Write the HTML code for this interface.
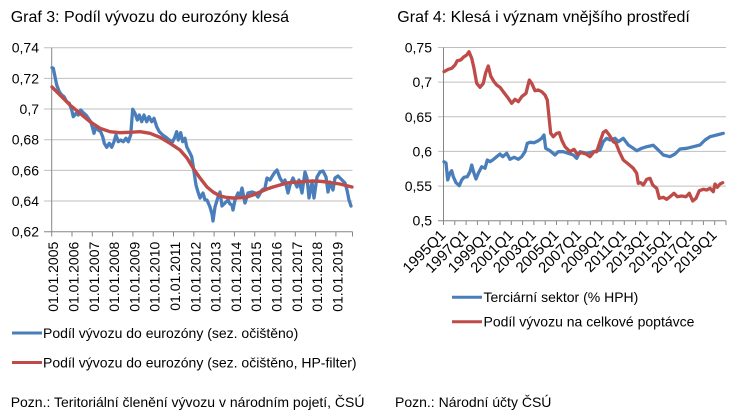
<!DOCTYPE html>
<html>
<head>
<meta charset="utf-8">
<style>
html,body{margin:0;padding:0;background:#fff;}
svg{display:block;}
text{font-family:"Liberation Sans",Arial,sans-serif;fill:#000;}
</style>
</head>
<body>
<svg width="740" height="420" viewBox="0 0 740 420" xmlns="http://www.w3.org/2000/svg">
<rect width="740" height="420" fill="#fff"/>

<!-- ===== LEFT CHART ===== -->
<text x="10.7" y="22" font-size="16">Graf 3: Podíl vývozu do eurozóny klesá</text>

<g stroke="#bfbfbf" stroke-width="1">
<line x1="44" y1="47.7" x2="352.5" y2="47.7"/>
<line x1="44" y1="78.4" x2="352.5" y2="78.4"/>
<line x1="44" y1="109.0" x2="352.5" y2="109.0"/>
<line x1="44" y1="139.7" x2="352.5" y2="139.7"/>
<line x1="44" y1="170.4" x2="352.5" y2="170.4"/>
<line x1="44" y1="201.0" x2="352.5" y2="201.0"/>
</g>
<g stroke="#868686" stroke-width="1">
<line x1="51.7" y1="47.7" x2="51.7" y2="231.7"/>
<line x1="44" y1="231.7" x2="352.5" y2="231.7"/>
<line x1="51.7" y1="231.7" x2="51.7" y2="236.5"/>
<line x1="72" y1="231.7" x2="72" y2="236.5"/>
<line x1="92.3" y1="231.7" x2="92.3" y2="236.5"/>
<line x1="112.6" y1="231.7" x2="112.6" y2="236.5"/>
<line x1="132.9" y1="231.7" x2="132.9" y2="236.5"/>
<line x1="153.2" y1="231.7" x2="153.2" y2="236.5"/>
<line x1="173.5" y1="231.7" x2="173.5" y2="236.5"/>
<line x1="193.8" y1="231.7" x2="193.8" y2="236.5"/>
<line x1="214.1" y1="231.7" x2="214.1" y2="236.5"/>
<line x1="234.4" y1="231.7" x2="234.4" y2="236.5"/>
<line x1="254.7" y1="231.7" x2="254.7" y2="236.5"/>
<line x1="275" y1="231.7" x2="275" y2="236.5"/>
<line x1="295.3" y1="231.7" x2="295.3" y2="236.5"/>
<line x1="315.6" y1="231.7" x2="315.6" y2="236.5"/>
<line x1="335.9" y1="231.7" x2="335.9" y2="236.5"/>
<line x1="352.5" y1="231.7" x2="352.5" y2="236.5"/>
</g>
<g font-size="14" text-anchor="end">
<text x="39" y="52.7">0,74</text>
<text x="39" y="83.4">0,72</text>
<text x="39" y="114">0,7</text>
<text x="39" y="144.7">0,68</text>
<text x="39" y="175.4">0,66</text>
<text x="39" y="206">0,64</text>
<text x="39" y="236.7">0,62</text>
</g>
<g font-size="14" text-anchor="end">
<text transform="translate(58.2,241.7) rotate(-90)">01.01.2005</text>
<text transform="translate(78.5,241.7) rotate(-90)">01.01.2006</text>
<text transform="translate(98.8,241.7) rotate(-90)">01.01.2007</text>
<text transform="translate(119.1,241.7) rotate(-90)">01.01.2008</text>
<text transform="translate(139.4,241.7) rotate(-90)">01.01.2009</text>
<text transform="translate(159.7,241.7) rotate(-90)">01.01.2010</text>
<text transform="translate(180,241.7) rotate(-90)">01.01.2011</text>
<text transform="translate(200.3,241.7) rotate(-90)">01.01.2012</text>
<text transform="translate(220.6,241.7) rotate(-90)">01.01.2013</text>
<text transform="translate(240.9,241.7) rotate(-90)">01.01.2014</text>
<text transform="translate(261.2,241.7) rotate(-90)">01.01.2015</text>
<text transform="translate(281.5,241.7) rotate(-90)">01.01.2016</text>
<text transform="translate(301.8,241.7) rotate(-90)">01.01.2017</text>
<text transform="translate(322.1,241.7) rotate(-90)">01.01.2018</text>
<text transform="translate(342.4,241.7) rotate(-90)">01.01.2019</text>
</g>

<polyline fill="none" stroke="#4a7ebb" stroke-width="3.3" stroke-linejoin="round" stroke-linecap="round"
points="52,67.7 53.3,68.3 55,76.7 56.7,85 59.3,91.7 61.7,95 64,96.7 66.7,101.7 69.3,103.3 71.7,110 73.3,116.7 76,113.3 78.3,115 80.7,110 83.3,112.7 86,115 88.3,118.3 90.7,121.7 92.7,128.3 94,133.3 96,126.7 98.3,130 100.7,131.7 102.7,136.7 104.3,143.3 106.7,147.3 109.3,143.3 111.7,147.3 114,141.7 116,135 118.3,141.7 120.7,140 123.3,141.7 126,138.3 128.3,141.7 130.7,135 132.7,109.3 135,113.3 137.3,120 139.3,115 141.7,121.7 144,115 146.7,121.7 149,116.7 151.7,121.7 154,118.3 156.7,126.7 159.3,131.7 162.7,135 166,137.3 169.3,140 172.7,141.7 175,136.7 176.7,131.7 178.3,140 180.7,132.7 182.7,141.7 185,138.3 186.7,146.7 189.3,151.7 191.7,156.7 193,165 194.5,175 196,185 198,192 200,198 203,193 205,200 207,200 210,207 212,214 213,221 215,207 218,197 220,192 222,206 225,203 228,200 230,204 232,205 233,210 235,200 238,193 240,196 242,188 245,203 248,193 252,192 255,193 258,197 262,190 265,188 267,178 270,180 273,175 275,172 277,170 280,178 283,183 285,180 288,193 290,185 293,178 297,187 299,180 302,193 305,172 307,178 309,198 312,182 314,198 317,177 320,172 323,171 326,177 328,192 330,182 333,190 335,178 338,176 342,180 345,183 347,190 349,200 351,206"/>
<polyline fill="none" stroke="#be4b48" stroke-width="3.4" stroke-linejoin="round" stroke-linecap="round"
points="52,87 60,95 70,105 80,113.3 90,121.7 100,128.3 110,131.7 120,132.7 130,132.3 140,131.7 150,133.3 160,137.3 170,143.3 180,150 187,158 193,168 200,178 207,187 213,192 220,196 227,197.5 233,198 240,197.8 247,197 253,195 260,192 267,189 273,187 280,185 287,183 293,182.3 300,182 307,181.3 313,181 320,181.3 327,182 333,183 340,184 346,185.5 352,187"/>

<line x1="12" y1="333" x2="42" y2="333" stroke="#4a7ebb" stroke-width="3"/>
<text x="43" y="338" font-size="14">Podíl vývozu do eurozóny (sez. očištěno)</text>
<line x1="12" y1="362.5" x2="42" y2="362.5" stroke="#be4b48" stroke-width="3"/>
<text x="43" y="367.5" font-size="14">Podíl vývozu do eurozóny (sez. očištěno, HP-filter)</text>

<text x="10.7" y="407" font-size="14">Pozn.: Teritoriální členění vývozu v národním pojetí, ČSÚ</text>

<!-- ===== RIGHT CHART ===== -->
<text x="397.3" y="22" font-size="16">Graf 4: Klesá i význam vnějšího prostředí</text>

<g stroke="#bfbfbf" stroke-width="1">
<line x1="438" y1="47.5" x2="726" y2="47.5"/>
<line x1="438" y1="82.1" x2="726" y2="82.1"/>
<line x1="438" y1="116.8" x2="726" y2="116.8"/>
<line x1="438" y1="151.4" x2="726" y2="151.4"/>
<line x1="438" y1="186.1" x2="726" y2="186.1"/>
</g>
<g stroke="#868686" stroke-width="1">
<line x1="443.5" y1="47.5" x2="443.5" y2="220.7"/>
<line x1="438" y1="220.7" x2="726" y2="220.7"/>
</g>
<g stroke="#868686" stroke-width="1">
<line x1="443.5" y1="220.7" x2="443.5" y2="225"/>
<line x1="454.8" y1="220.7" x2="454.8" y2="225"/>
<line x1="466.1" y1="220.7" x2="466.1" y2="225"/>
<line x1="477.4" y1="220.7" x2="477.4" y2="225"/>
<line x1="488.7" y1="220.7" x2="488.7" y2="225"/>
<line x1="500" y1="220.7" x2="500" y2="225"/>
<line x1="511.3" y1="220.7" x2="511.3" y2="225"/>
<line x1="522.6" y1="220.7" x2="522.6" y2="225"/>
<line x1="533.9" y1="220.7" x2="533.9" y2="225"/>
<line x1="545.2" y1="220.7" x2="545.2" y2="225"/>
<line x1="556.5" y1="220.7" x2="556.5" y2="225"/>
<line x1="567.8" y1="220.7" x2="567.8" y2="225"/>
<line x1="579.1" y1="220.7" x2="579.1" y2="225"/>
<line x1="590.4" y1="220.7" x2="590.4" y2="225"/>
<line x1="601.7" y1="220.7" x2="601.7" y2="225"/>
<line x1="613" y1="220.7" x2="613" y2="225"/>
<line x1="624.3" y1="220.7" x2="624.3" y2="225"/>
<line x1="635.6" y1="220.7" x2="635.6" y2="225"/>
<line x1="646.9" y1="220.7" x2="646.9" y2="225"/>
<line x1="658.2" y1="220.7" x2="658.2" y2="225"/>
<line x1="669.5" y1="220.7" x2="669.5" y2="225"/>
<line x1="680.8" y1="220.7" x2="680.8" y2="225"/>
<line x1="692.1" y1="220.7" x2="692.1" y2="225"/>
<line x1="703.4" y1="220.7" x2="703.4" y2="225"/>
<line x1="714.7" y1="220.7" x2="714.7" y2="225"/>
<line x1="726" y1="220.7" x2="726" y2="225"/>
</g>
<g font-size="14" text-anchor="end">
<text x="432" y="52.5">0,75</text>
<text x="432" y="87.1">0,7</text>
<text x="432" y="121.8">0,65</text>
<text x="432" y="156.4">0,6</text>
<text x="432" y="191.1">0,55</text>
<text x="432" y="225.7">0,5</text>
</g>
<g font-size="15" text-anchor="end">
<text transform="translate(446.5,236) rotate(-45)">1995Q1</text>
<text transform="translate(469.1,236) rotate(-45)">1997Q1</text>
<text transform="translate(491.7,236) rotate(-45)">1999Q1</text>
<text transform="translate(514.3,236) rotate(-45)">2001Q1</text>
<text transform="translate(536.9,236) rotate(-45)">2003Q1</text>
<text transform="translate(559.5,236) rotate(-45)">2005Q1</text>
<text transform="translate(582.1,236) rotate(-45)">2007Q1</text>
<text transform="translate(604.7,236) rotate(-45)">2009Q1</text>
<text transform="translate(627.3,236) rotate(-45)">2011Q1</text>
<text transform="translate(649.9,236) rotate(-45)">2013Q1</text>
<text transform="translate(672.5,236) rotate(-45)">2015Q1</text>
<text transform="translate(695.1,236) rotate(-45)">2017Q1</text>
<text transform="translate(717.7,236) rotate(-45)">2019Q1</text>
</g>

<polyline fill="none" stroke="#4a7ebb" stroke-width="3.3" stroke-linejoin="round" stroke-linecap="round"
points="444,161.7 446,163 447.7,180 450,173 451.7,170.7 453.3,176.7 456,182.7 459.3,185.7 461.7,180 464,177.3 467.3,176.7 470,171.7 471.7,165 474,173.3 476,179 478.3,173.3 481.7,166.7 485,168.3 487.3,160 490,161.7 492.7,160 496.7,156.7 500,154 502.7,156.7 506.7,153.3 510,159.3 514,157.3 518.3,159.3 521.7,156.7 525,151.7 527.3,143.3 530,142.3 534,142.7 538.3,140.7 541.7,138.3 544,135 545.7,148.3 550,150.7 555,155 558.3,151.7 563.3,151.7 568.3,153.3 573.3,155 576.7,158.3 580,151.7 586.7,153.3 593.3,151.7 600,150 603.3,141.7 606.7,138.3 610,140 615,138.3 618.3,141.7 623.3,138.3 628.3,145 633.3,148.3 636.7,150.7 641.7,148.3 646.7,146.7 653.3,145.3 658.3,150 663.3,155 670,156.7 675,154 680,149 686.7,148.3 693.3,146.7 700,145 705,140 710,136.7 716.7,135 723.3,133.3"/>
<polyline fill="none" stroke="#be4b48" stroke-width="3.3" stroke-linejoin="round" stroke-linecap="round"
points="444,71.7 448.3,69.3 451.7,68.3 455,65 457.3,60.7 460.7,60 463.3,57.3 466.7,55 469,51.7 471.7,58.3 474,68.3 476.7,83.3 480,87.3 483.3,83.3 485.7,72.7 488.3,66 490.7,76 494,81.7 496.7,85 500,87.3 503.3,91.7 508.3,98.3 511.7,103.3 515,99.3 518.3,101.7 521.7,96.7 526,93.3 529.3,80 531.7,83.3 535,90.7 538.3,90 541.7,91.7 545,95 547.3,100 549.3,120 550.7,133.3 553.3,136.7 556.7,133.3 559.3,132.7 561.7,140 565,146.7 570,151.7 574,149.3 577.3,154.3 581.7,152.7 586,154 590,156.7 594,151.7 596.7,151.7 600,141.7 603.3,132.3 606,130.7 609.3,135 613.3,141.7 616,143.3 619.3,151.7 623.3,160 628.3,164 633.3,168.3 636.7,173.3 638.3,183.3 640.7,182.7 643.3,185 646.7,179.3 650,178.3 652.7,185 656.7,188.3 659.3,198.3 663.3,197.3 666.7,199.3 670,196.7 674,193.3 677.3,196.7 681.7,196 686,196.7 689.3,193.3 692.7,201 696,198.3 699.3,190.7 703.3,189.3 706.7,190 710,188.3 713.3,191.7 715,184 717.3,187.3 720,184 722.7,182.7"/>

<line x1="452" y1="297.3" x2="482" y2="297.3" stroke="#4a7ebb" stroke-width="3"/>
<text x="483.5" y="302" font-size="14">Terciární sektor (% HPH)</text>
<line x1="452" y1="321.7" x2="482" y2="321.7" stroke="#be4b48" stroke-width="3"/>
<text x="483.5" y="326.5" font-size="14">Podíl vývozu na celkové poptávce</text>

<text x="395" y="407" font-size="14">Pozn.: Národní účty ČSÚ</text>
</svg>
</body>
</html>
